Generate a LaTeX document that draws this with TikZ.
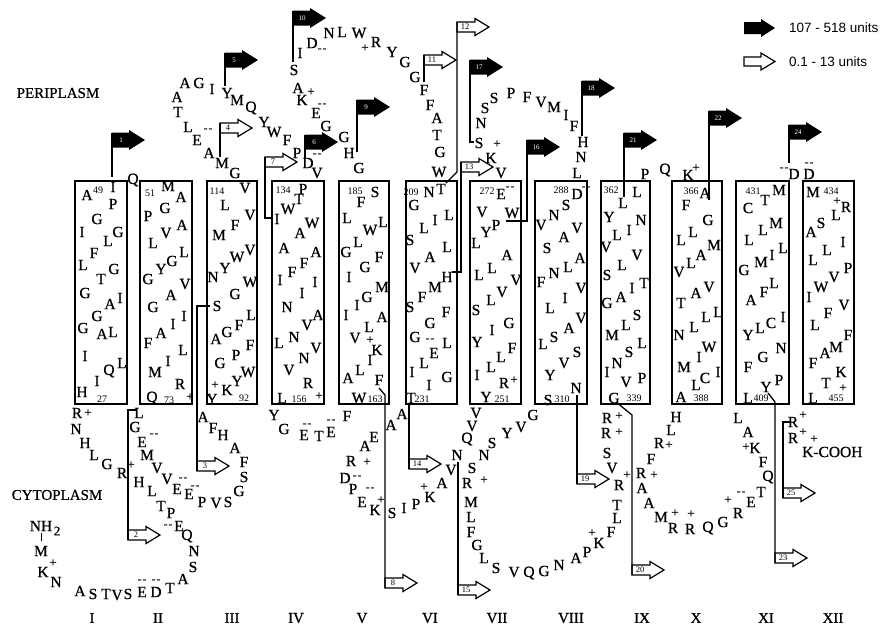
\documentclass[tikz,border=0pt]{standalone}
\usepackage{fontspec}
\setmainfont{Liberation Serif}
\newfontfamily\resfont{Liberation Serif}[FakeBold=0.8]
\newfontfamily\legfont{Liberation Sans}
\newcommand\bflag[4]{%
  \fill (#2,#3+2.5) -- ++(17,0) -- ++(0,-2.5) -- ++(16,10) -- ++(-16,10) -- ++(0,-2.5) -- ++(-17,0) -- cycle;
  \node[blab] (#1) at (#2+9,#3+10) {#4};
  \coordinate (#1nw) at (#2,#3+2.5);}
\newcommand\wflag[4]{%
  \draw[line width=1.2pt,fill=white,line join=miter] (#2,#3+3.5) -- ++(18,0) -- ++(0,-3.5) -- ++(14,8.5) -- ++(-14,8.5) -- ++(0,-3.5) -- ++(-18,0) -- cycle;
  \node[wlab] (#1) at (#2+8,#3+8.5) {#4};
  \coordinate (#1nw) at (#2,#3+3.5);
  \coordinate (#1sw) at (#2,#3+13.5);}
\begin{document}
\begin{tikzpicture}[x=1pt,y=-1pt,
  res/.style={font=\resfont\fontsize{15.5}{15.5}\selectfont,inner sep=0pt},
  chg/.style={font=\resfont\fontsize{13}{13}\selectfont,inner sep=0pt},
  dsh/.style={font=\resfont\fontsize{11}{11}\selectfont,inner sep=0pt},
  num/.style={font=\fontsize{10}{10}\selectfont,inner sep=0pt},
  rom/.style={font=\resfont\fontsize{15}{15}\selectfont,inner sep=0pt},
  lbl/.style={font=\resfont\fontsize{15}{15}\selectfont,inner sep=0pt},
  blab/.style={font=\fontsize{7}{7}\selectfont,text=white,inner sep=0pt},
  wlab/.style={font=\fontsize{8.5}{8.5}\selectfont,inner sep=0pt},
  tm/.style={draw,line width=1.4pt},
  pole/.style={line width=1.3pt}]
\useasboundingbox (0,0) rectangle (886,625);
% helix boxes
\foreach \nm/\a/\b in {I/75/127,II/140/192,III/207/257,IV/272/324,V/339/389,VI/406/457,VII/470/521,VIII/535/587,IX/601/650,X/672/722,XI/736/789,XII/803/854}
  \draw[tm] (\a,181) rectangle (\b,404) node[inner sep=0pt] (box\nm) {};
% region labels
\node[lbl] (peri) at (58,93) {PERIPLASM};
\node[lbl] (cyto) at (57,495) {CYTOPLASM};
% roman numerals
\foreach \x/\rr in {92/I,158/II,232/III,296/IV,362/V,430/VI,497/VII,571/VIII,642/IX,696/X,766/XI,833/XII}
  \node[rom] (rn\rr) at (\x,618) {\rr};
% residues inside helices
\foreach \x/\y/\rr in {
 87/195/A,113/187/I,113/204/P,97/219/G,82/232/I,118/232/G,108/241/L,94/253/F,83/265/L,114/269/G,101/279/T,85/293/G,120/298/I,110/304/A,97/316/G,83/328/G,102/334/A,113/332/L,85/356/I,122/363/L,109/371/Q,97/381/I,82/392/H,
 168/186/M,181/197/A,165/208/G,148/216/P,182/225/A,166/233/V,153/243/L,184/252/L,172/261/G,161/269/Y,148/279/G,185/284/V,171/295/A,153/307/G,184/316/I,173/324/I,161/333/A,148/343/F,183/350/L,168/361/I,155/372/M,180/384/R,152/398/Q,
 245/188/V,225/205/L,250/215/V,235/225/F,219/235/M,250/250/V,237/257/W,225/268/Y,213/277/N,250/282/W,235/294/G,217/306/S,251/315/L,239/325/F,227/332/G,216/339/A,250/345/F,236/355/P,220/363/G,248/372/W,237/381/Y,227/390/K,212/399/Y,
 303/189/P,299/199/T,288/209/W,277/219/I,312/223/W,300/233/A,284/248/A,316/252/A,304/263/F,292/272/F,280/280/I,315/282/I,302/293/I,287/307/N,318/315/A,307/325/V,294/337/N,279/343/L,316/348/V,304/358/N,289/370/V,308/383/R,282/398/L,
 375/192/S,361/202/F,347/218/L,383/222/L,370/230/W,358/242/L,346/252/G,379/257/F,365/267/G,349/277/I,382/287/M,367/297/G,357/305/I,346/315/I,382/317/A,369/327/L,355/338/V,377/350/K,370/360/I,360/370/L,348/378/A,379/380/F,359/398/W,
 429/192/N,441/189/T,414/205/G,449/215/L,435/220/I,424/228/L,410/240/S,447/247/L,430/257/A,415/268/V,447/277/H,435/287/M,422/297/F,410/307/S,446/312/F,430/323/G,415/337/G,447/343/L,434/353/E,424/363/L,412/372/I,447/377/G,429/385/I,411/398/T,
 501/194/E,482/212/V,512/213/W,496/225/P,486/232/Y,476/243/L,507/255/A,492/268/L,479/275/L,516/280/V,502/292/V,491/300/L,476/310/S,509/323/G,492/330/I,477/342/Y,512/348/F,501/357/L,491/367/L,477/375/I,504/383/R,486/397/Y,
 577/194/D,566/205/S,554/215/N,541/225/V,577/228/V,564/237/A,547/248/S,580/258/A,568/267/L,554/273/N,541/282/F,581/288/V,565/298/I,550/308/L,581/318/V,569/328/A,554/337/S,543/344/L,577/352/S,564/363/V,550/375/Y,576/388/N,548/400/S,
 637/192/L,623/203/L,609/217/Y,641/220/N,629/230/I,617/235/L,606/247/V,637/255/V,622/265/L,607/275/S,644/283/T,632/288/I,621/297/A,607/303/G,637/315/S,626/325/L,612/335/M,642/343/L,629/352/S,617/363/N,607/372/I,642/378/P,626/382/V,614/398/G,
 705/193/A,686/205/F,708/220/G,693/232/L,681/240/L,714/245/M,701/255/A,691/263/L,679/272/V,709/287/V,696/293/A,681/303/T,718/312/L,706/317/L,694/327/L,679/335/N,709/347/W,699/357/I,684/367/M,718/372/I,705/378/C,696/385/L,681/397/A,
 779/190/M,765/200/T,748/208/C,776/223/M,763/230/L,749/240/L,783/248/L,772/255/I,761/262/M,744/270/G,774/283/L,764/292/F,751/300/A,783/317/I,771/323/C,760/328/L,748/335/Y,781/348/N,763/357/G,748/367/F,779/380/P,766/387/Y,748/398/L,
 813/192/M,846/207/R,836/215/L,821/223/S,811/232/A,843/242/I,827/250/L,813/260/L,848/268/P,834/277/V,821/287/W,809/297/I,844/305/V,828/313/F,815/325/L,848/335/F,836/347/M,825/353/A,813/363/F,841/372/K,826/383/T,813/398/L}
  \node[res] (r\x-\y) at (\x,\y) {\rr};
% residues in loops
\foreach \x/\y/\rr in {
 133/180/Q,185/83/A,199/83/G,212/89/I,177/97/A,178/112/T,188/127/L,197/140/E,209/153/A,222/163/M,235/173/G,
 227/93/Y,237/100/M,251/108/Q,264/122/Y,274/132/W,287/140/F,297/153/P,308/163/D,317/173/V,
 359/168/G,349/153/H,344/137/G,326/126/G,316/113/E,302/100/K,298/88/A,294/70/S,300/53/I,312/43/D,329/33/N,342/32/L,359/33/W,376/42/R,392/52/Y,405/62/G,415/77/G,424/90/F,430/105/F,437/118/A,437/135/T,440/152/G,439/172/W,
 501/173/V,491/158/K,479/143/S,481/123/N,485/108/S,494/98/S,511/93/P,527/97/F,541/102/V,554/107/M,566/115/I,574/126/F,583/142/H,581/157/N,577/173/L,
 645/174/P,665/170/Q,688/175/K,794/174/D,809/174/D,
 77/413/R,76/429/N,85/443/H,94/455/L,107/464/G,122/473/R,
 139/413/L,135/427/G,142/442/E,147/455/M,157/468/V,167/479/V,177/489/E,189/494/E,202/502/P,216/503/V,228/502/S,239/491/G,244/477/S,244/462/F,235/448/A,223/435/H,213/428/F,203/417/A,
 139/482/H,152/491/L,161/506/T,171/513/P,179/526/E,187/536/Q,194/551/N,193/567/S,183/579/A,170/588/T,156/592/D,142/592/E,128/594/S,117/595/V,106/594/T,93/594/S,80/591/A,56/582/N,43/572/K,41/551/M,
 274/415/Y,284/429/G,304/435/E,319/436/T,331/432/E,347/416/F,
 391/425/A,402/414/A,374/437/E,365/446/A,351/461/R,345/478/D,353/489/P,362/502/E,375/510/K,392/513/S,404/508/I,416/504/P,430/497/K,442/483/A,451/470/V,457/455/N,467/439/Q,472/426/V,476/413/V,
 533/415/G,521/427/V,507/433/Y,492/443/S,484/455/N,472/468/S,467/483/R,471/502/M,471/517/L,471/532/F,477/545/G,484/558/L,496/568/S,514/572/V,529/573/Q,544/571/G,559/565/N,576/558/A,587/552/P,599/543/K,611/532/F,617/518/L,617/505/T,619/485/R,612/468/V,607/453/S,606/433/R,607/418/R,
 676/417/H,671/430/L,659/443/R,651/459/F,641/473/R,642/488/A,649/503/A,661/517/M,673/528/R,690/529/R,708/528/Q,723/522/G,738/513/R,751/502/E,761/492/T,768/477/Q,763/462/F,755/448/K,748/432/A,738/418/L,
 793/422/R,793/438/R}
  \node[res] (r\x-\y) at (\x,\y) {\rr};
% charges
\foreach \x/\y in {88/413,131/465,53/563,190/397,215/385,319/396,311/92,365/48,367/462,381/500,424/487,370/340,497/144,514/380,484/480,592/533,627/475,619/432,619/416,654/475,669/445,675/513,691/514,728/500,746/447,696/168,837/201,843/388,803/415,803/432,814/439}
  \node[chg] (p\x-\y) at (\x,\y) {+};
\foreach \x/\y in {208/130,154/435,183/479,195/487,168/526,156/581,142/581,307/425,331/421,317/155,322/50,322/105,357/477,370/489,430/340,510/188,586/188,741/493,784/169,809/164}
  \node[dsh] (m\x-\y) at (\x,\y) {-\kern1.2pt-};
% residue numbers
\foreach \x/\y/\rr in {98/190/49,102/399/27,150/193/51,169/400/73,217/191/114,244/398/92,283/190/134,299/399/156,355/191/185,375/399/163,411/192/209,422/399/231,487/191/272,502/399/251,561/190/288,562/399/310,611/190/362,634/398/339,691/191/366,701/398/388,753/191/431,761/398/409,831/191/434,836/398/455}
  \node[num] (n\rr) at (\x,\y) {\rr};
% N and C termini
\node[res] (nh) at (41,526) {NH};
\node[res,font=\resfont\fontsize{13}{13}\selectfont] (nh2) at (57,531) {2};
\draw[line width=1pt] (41,533) -- (41,541);
\node[res,anchor=west] (cooh) at (802,452) {K-COOH};
% black flags
\bflag{f1}{112}{130}{1}
\bflag{f5}{225}{50}{5}
\bflag{f6}{305}{132}{6}
\bflag{f9}{357}{97}{9}
\bflag{f10}{293}{8}{10}
\bflag{f16}{527}{137}{16}
\bflag{f17}{470}{57}{17}
\bflag{f18}{582}{78}{18}
\bflag{f21}{624}{130}{21}
\bflag{f22}{709}{108}{22}
\bflag{f24}{789}{122}{24}
\coordinate (e1) at (112,177); \draw[pole] (f1nw) -- (e1);
\coordinate (e5) at (225,86); \draw[pole] (f5nw) -- (e5);
\coordinate (e6) at (305,158); \draw[pole] (f6nw) -- (e6);
\coordinate (e9) at (357,152); \draw[pole] (f9nw) -- (e9);
\coordinate (e10) at (293,62); \draw[pole] (f10nw) -- (e10);
\coordinate (e16) at (506,221); \draw[pole] (f16nw) -- (527,221) -- (e16);
\coordinate (e17) at (474,142); \draw[pole] (f17nw) -- (470,142) -- (e17);
\coordinate (e18) at (582,136); \draw[pole] (f18nw) -- (e18);
\coordinate (e21) at (624,197); \draw[pole] (f21nw) -- (e21);
\coordinate (e22) at (709,200); \draw[pole] (f22nw) -- (e22);
\coordinate (e24) at (789,163); \draw[pole] (f24nw) -- (e24);
% white flags
\wflag{f2}{128}{526.5}{2}
\wflag{f3}{197}{457.5}{3}
\wflag{f4}{220}{119.5}{4}
\wflag{f7}{265}{153.5}{7}
\wflag{f8}{385}{574.5}{8}
\wflag{f11}{424}{51.5}{11}
\wflag{f12}{457}{18.5}{12}
\wflag{f13}{461}{158.5}{13}
\wflag{f14}{409}{455.5}{14}
\wflag{f15}{458}{581.5}{15}
\wflag{f19}{577}{470.5}{19}
\wflag{f20}{632}{561.5}{20}
\wflag{f23}{775}{549.5}{23}
\wflag{f25}{783}{484.5}{25}
\coordinate (e2) at (136,410); \draw[pole] (e2) -- (128,410) -- (f2sw);
\coordinate (e3) at (210,306); \draw[pole] (e3) -- (197,306) -- (f3sw);
\coordinate (e4) at (220,157); \draw[pole] (f4nw) -- (e4);
\coordinate (e7) at (271,218); \draw[pole] (f7nw) -- (265,218) -- (e7);
\coordinate (e8) at (379,388); \draw[pole] (e8) -- (385,395) -- (f8sw);
\coordinate (e11) at (424,82); \draw[pole] (f11nw) -- (e11);
\coordinate (e12) at (446,183); \draw[pole] (f12nw) -- (457,172) -- (e12);
\coordinate (e13) at (452,272); \draw[pole] (f13nw) -- (461,272) -- (e13);
\coordinate (e14) at (409,405); \draw[pole] (e14) -- (f14sw);
\coordinate (e15) at (458,462); \draw[pole] (e15) -- (f15sw);
\coordinate (e19) at (577,395); \draw[pole] (e19) -- (f19sw);
\coordinate (e20) at (616,402); \draw[pole] (e20) -- (632,415) -- (f20sw);
\coordinate (e23) at (768,393); \draw[pole] (e23) -- (775,402) -- (f23sw);
\coordinate (e25) at (790,422); \draw[pole] (e25) -- (783,422) -- (f25sw);
% legend
\fill (744,22) -- (761,22) -- (761,19) -- (775,28) -- (761,37) -- (761,34) -- (744,34) -- cycle;
\draw[line width=1.2pt,fill=white] (744,57) -- (761,57) -- (761,53) -- (775,61.5) -- (761,70) -- (761,66) -- (744,66) -- cycle;
\node[font=\legfont\fontsize{13.5}{13.5}\selectfont,anchor=west,inner sep=0pt] (leg1) at (789,28) {107 - 518 units};
\node[font=\legfont\fontsize{13.5}{13.5}\selectfont,anchor=west,inner sep=0pt] (leg2) at (789,62) {0.1 - 13 units};
\end{tikzpicture}
\end{document}
